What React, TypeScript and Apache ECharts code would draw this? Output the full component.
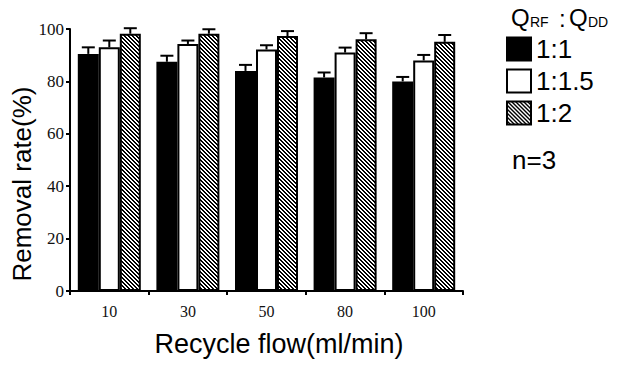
import React, { useEffect, useRef } from "react";
import * as echarts from "echarts";

const categories = ["10", "30", "50", "80", "100"];
const seriesNames = ["1:1", "1:1.5", "1:2"];
const ratio11 = [90.5, 87.5, 84, 81.5, 80];
const ratio115 = [93, 94.3, 92.2, 91, 88];
const ratio12 = [98.2, 98.2, 97.3, 96.1, 95.1];
const err11 = [2.5, 2.3, 2.3, 1.9, 1.7];
const err115 = [2.6, 1.3, 1.6, 1.9, 2.1];
const err12 = [2.1, 1.7, 1.9, 2.3, 2.6];
const yTicks = [0, 20, 40, 60, 80, 100];

const SANS = "Liberation Sans, Arial, sans-serif";
const SERIF = "Liberation Serif, Times New Roman, serif";

function makeHatch(): HTMLCanvasElement {
  const c = document.createElement("canvas");
  c.width = 4;
  c.height = 4;
  const ctx = c.getContext("2d")!;
  ctx.fillStyle = "#fff";
  ctx.fillRect(0, 0, 4, 4);
  ctx.fillStyle = "#000";
  for (let i = 0; i < 4; i++) {
    ctx.fillRect(i, i, 1, 1);
    ctx.fillRect((i + 1) % 4, i, 1, 1);
  }
  return c;
}

export default function App() {
  const ref = useRef<HTMLDivElement>(null);
  useEffect(() => {
    if (!ref.current) return;
    const chart = echarts.init(ref.current, undefined, { renderer: "svg" });
    const hatch = { image: makeHatch(), repeat: "repeat" };
    const barW = 21;
    const values = [ratio11, ratio115, ratio12];
    const errs = [err11, err115, err12];
    const fills: any[] = ["#000", "#fff", hatch];

    const bars = seriesNames.map((name, i) => ({
      name,
      type: "bar",
      barWidth: barW,
      barGap: "0%",
      data: values[i],
      itemStyle: { color: fills[i], borderColor: "#000", borderWidth: 2 },
      z: 2,
    }));

    const errSeries = seriesNames.map((name, i) => ({
      name: name + " err",
      type: "custom",
      z: 3,
      encode: { x: 0, y: 1 },
      data: categories.map((_, k) => [k, values[i][k], errs[i][k]]),
      renderItem: (params: any, api: any) => {
        const idx = api.value(0);
        const v = api.value(1);
        const e = api.value(2);
        const base = api.coord([idx, v]);
        const top = api.coord([idx, v + e]);
        const x = base[0] + (i - 1) * barW;
        return {
          type: "group",
          children: [
            { type: "line", shape: { x1: x, y1: base[1], x2: x, y2: top[1] }, style: { stroke: "#000", lineWidth: 2 } },
            { type: "line", shape: { x1: x - 6.5, y1: top[1], x2: x + 6.5, y2: top[1] }, style: { stroke: "#000", lineWidth: 2 } },
          ],
        };
      },
    }));

    const t = (text: string, x: number, y: number, fontSize: number) => ({
      type: "text",
      x,
      y,
      style: { text, fontFamily: SANS, fontSize, fill: "#000", verticalAlign: "middle" },
    });

    chart.setOption({
      animation: false,
      backgroundColor: "#fff",
      grid: { left: 70, right: 157, top: 29, bottom: 74 },
      legend: {
        data: seriesNames,
        orient: "vertical",
        left: 501,
        top: 31,
        itemWidth: 24,
        itemHeight: 23,
        itemGap: 6,
        icon: "rect",
        textStyle: { fontSize: 26, fontFamily: SANS, color: "#000", lineHeight: 23 },
        selectedMode: false,
      },
      xAxis: {
        type: "category",
        data: categories,
        axisLine: { lineStyle: { color: "#000", width: 2 } },
        axisTick: { show: true, length: 4, lineStyle: { color: "#000", width: 2 } },
        axisLabel: { fontFamily: SERIF, fontSize: 16, color: "#111", margin: 12 },
      },
      yAxis: {
        type: "value",
        min: yTicks[0],
        max: yTicks[yTicks.length - 1],
        interval: 20,
        axisLine: { show: true, lineStyle: { color: "#000", width: 2 } },
        axisTick: { show: true, length: 4, lineStyle: { color: "#000", width: 2 } },
        axisLabel: { fontFamily: SERIF, fontSize: 17, color: "#111", margin: 6 },
        splitLine: { show: false },
      },
      graphic: [
        {
          type: "text",
          x: 22,
          y: 184,
          rotation: Math.PI / 2,
          style: { text: "Removal rate(%)", fontFamily: SANS, fontSize: 26, fill: "#000", align: "center", verticalAlign: "middle" },
        },
        {
          type: "text",
          x: 279,
          y: 344,
          style: { text: "Recycle flow(ml/min)", fontFamily: SANS, fontSize: 27, fill: "#000", align: "center", verticalAlign: "middle" },
        },
        t("Q", 511, 17.5, 24),
        t("RF", 530, 21.5, 14),
        t(":", 559, 18.5, 24),
        t("Q", 569, 17.5, 24),
        t("DD", 588, 21.5, 14),
        t("n=3", 512, 160, 26),
      ],
      series: [...bars, ...errSeries],
    });
    return () => chart.dispose();
  }, []);
  return <div ref={ref} style={{ position: "fixed", left: 0, top: 0, width: 620, height: 365 }} />;
}
